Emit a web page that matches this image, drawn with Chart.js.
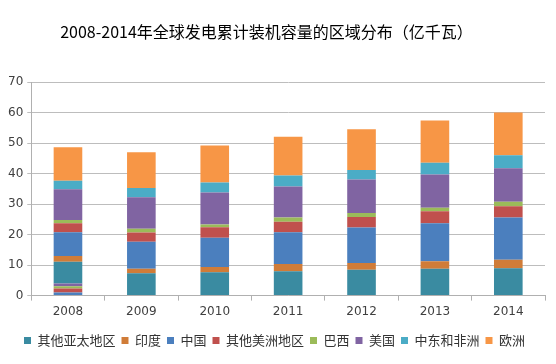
<!DOCTYPE html>
<html>
<head>
<meta charset="utf-8">
<script src="https://cdn.jsdelivr.net/npm/chart.js@4/dist/chart.umd.min.js"></script>
<style>
    body { margin: 0; background: #fff; }
    #chart { display: block; }
</style>
</head>
<body>
<canvas id="chart" width="556" height="364"></canvas>
<script>
const categories = ['2008', '2009', '2010', '2011', '2012', '2013', '2014'];

// series, bottom to top (亿千瓦)
const otherAsiaPacific = [7.1, 7.3, 7.7, 8.0, 8.5, 8.8, 9.0];
const india = [1.9, 1.5, 1.7, 2.4, 2.2, 2.5, 2.8];
const china = [7.8, 8.9, 9.6, 10.4, 11.6, 12.4, 13.8];
const otherAmericas = [2.9, 3.0, 3.4, 3.4, 3.5, 4.0, 3.7];
const brazil = [1.1, 1.2, 0.9, 1.4, 1.3, 1.1, 1.5];
const usa = [10.1, 10.4, 10.5, 10.2, 11.0, 10.9, 11.0];
const middleEastAfrica = [2.8, 3.0, 3.3, 3.6, 3.1, 3.9, 4.2];
const europe = [11.0, 11.7, 12.1, 12.7, 13.4, 13.8, 14.1];

// the 2008 column has a small extra stack under it in the source chart
const extra2008China = [1.0, 0, 0, 0, 0, 0, 0];
const extra2008OtherAmericas = [1.3, 0, 0, 0, 0, 0, 0];
const extra2008Brazil = [0.8, 0, 0, 0, 0, 0, 0];
const extra2008Usa = [0.9, 0, 0, 0, 0, 0, 0];

const yTicks = [0, 10, 20, 30, 40, 50, 60, 70];

const colors = {
    teal: '#3a8ba1',
    india: '#d07c38',
    blue: '#4b7fbe',
    red: '#c0504d',
    green: '#9bbb59',
    purple: '#8064a2',
    cyan: '#4bacc6',
    orange: '#f79646'
};

const make_set = (label, data, color, extra) => ({
    label: label,
    data: data,
    backgroundColor: color,
    borderWidth: 0,
    barPercentage: 0.39,
    categoryPercentage: 1,
    extra: !!extra
});

// nudge title and legend so they sit where the original has them
const shiftPlugin = {
    id: 'shift',
    afterLayout: (chart) => {
        chart.titleBlock.left -= 8;
        chart.titleBlock.right -= 8;
        chart.legend.top += 5;
        chart.legend.bottom += 5;
    }
};

var ctx = document.getElementById('chart').getContext('2d');
var chart = new Chart(ctx, {
    type: 'bar',
    data: {
        labels: categories,
        datasets: [
            make_set('中国', extra2008China, colors.blue, true),
            make_set('其他美洲地区', extra2008OtherAmericas, colors.red, true),
            make_set('巴西', extra2008Brazil, colors.green, true),
            make_set('美国', extra2008Usa, colors.purple, true),
            make_set('其他亚太地区', otherAsiaPacific, colors.teal),
            make_set('印度', india, colors.india),
            make_set('中国', china, colors.blue),
            make_set('其他美洲地区', otherAmericas, colors.red),
            make_set('巴西', brazil, colors.green),
            make_set('美国', usa, colors.purple),
            make_set('中东和非洲', middleEastAfrica, colors.cyan),
            make_set('欧洲', europe, colors.orange)
        ]
    },
    options: {
        responsive: false,
        animation: false,
        layout: { padding: { left: 4, right: 11, top: 0, bottom: 12 } },
        plugins: {
            title: {
                display: true,
                text: '2008-2014年全球发电累计装机容量的区域分布（亿千瓦）',
                color: '#000',
                font: { family: '"Noto Sans CJK SC"', size: 16, weight: 'normal' },
                padding: { top: 22, bottom: 41 }
            },
            legend: {
                position: 'bottom',
                labels: {
                    boxWidth: 7,
                    boxHeight: 7,
                    padding: 6,
                    color: '#333',
                    font: { family: '"Noto Sans CJK SC"', size: 13 },
                    filter: (item, data) => !data.datasets[item.datasetIndex].extra
                }
            },
            tooltip: { enabled: false }
        },
        scales: {
            x: {
                stacked: true,
                grid: {
                    display: true,
                    drawOnChartArea: false,
                    tickLength: 5,
                    color: '#b0b0b0'
                },
                border: { color: '#b0b0b0' },
                ticks: {
                    color: '#404040',
                    font: { family: '"DejaVu Sans"', size: 12 },
                    padding: 4
                }
            },
            y: {
                stacked: true,
                min: 0,
                max: 70,
                afterBuildTicks: (axis) => {
                    axis.ticks = yTicks.map(v => ({ value: v }));
                },
                grid: {
                    color: '#bdbdbd',
                    tickLength: 4
                },
                border: { color: '#b0b0b0' },
                ticks: {
                    color: '#404040',
                    font: { family: '"DejaVu Sans"', size: 12 },
                    padding: 4
                }
            }
        }
    },
    plugins: [shiftPlugin]
});
</script>
</body>
</html>
